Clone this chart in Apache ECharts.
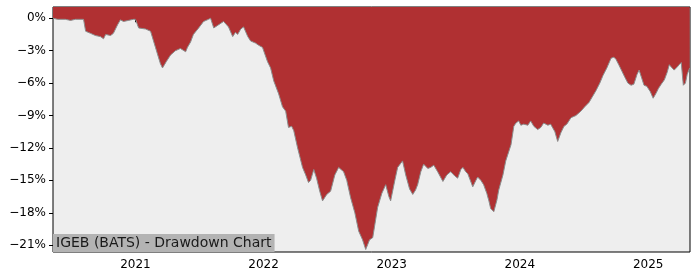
<!DOCTYPE html>
<html>
<head>
<meta charset="utf-8">
<script src="https://cdn.jsdelivr.net/npm/echarts@6.0.0/dist/echarts.min.js"></script>
<style>
  html, body { margin: 0; padding: 0; background: #fff; }
  #chart { width: 700px; height: 280px; }
</style>
</head>
<body>
<div id="chart"></div>
<script>
"use strict";

// Drawdown from running peak, in percent.
const dates = [
  "2020-05-11", "2020-05-24", "2020-06-15", "2020-06-30", "2020-07-14", "2020-08-06",
  "2020-08-12", "2020-08-26", "2020-09-09", "2020-09-23", "2020-10-02", "2020-10-08",
  "2020-10-22", "2020-10-30", "2020-11-11", "2020-11-19", "2020-11-28", "2020-12-12",
  "2020-12-26",
  "2021-01-01", "2021-01-10", "2021-01-30", "2021-02-13", "2021-02-27", "2021-03-13",
  "2021-03-19", "2021-03-30", "2021-04-11", "2021-04-25", "2021-05-09", "2021-05-24",
  "2021-05-29", "2021-06-07", "2021-06-15", "2021-06-30", "2021-07-14", "2021-07-28",
  "2021-08-03", "2021-08-12", "2021-08-26", "2021-09-09", "2021-09-23", "2021-10-05",
  "2021-10-13", "2021-10-19", "2021-10-28", "2021-11-05", "2021-11-17", "2021-11-25",
  "2021-12-09", "2021-12-18", "2021-12-29",
  "2022-01-12", "2022-01-21", "2022-01-30", "2022-02-13", "2022-02-24", "2022-03-05",
  "2022-03-13", "2022-03-22", "2022-03-28", "2022-04-08", "2022-04-22", "2022-05-01",
  "2022-05-09", "2022-05-15", "2022-05-24", "2022-06-01", "2022-06-10", "2022-06-18",
  "2022-06-30", "2022-07-11", "2022-07-23", "2022-08-03", "2022-08-17", "2022-08-26",
  "2022-09-06", "2022-09-18", "2022-09-29", "2022-10-10", "2022-10-19", "2022-10-30",
  "2022-11-08", "2022-11-17", "2022-11-22", "2022-12-04", "2022-12-15", "2022-12-24",
  "2022-12-29",
  "2023-01-10", "2023-01-18", "2023-02-01", "2023-02-10", "2023-02-21", "2023-03-02",
  "2023-03-10", "2023-03-16", "2023-03-25", "2023-04-02", "2023-04-14", "2023-04-22",
  "2023-05-01", "2023-05-12", "2023-05-27", "2023-06-07", "2023-06-18", "2023-06-30",
  "2023-07-08", "2023-07-17", "2023-07-23", "2023-07-31", "2023-08-06", "2023-08-20",
  "2023-08-29", "2023-09-03", "2023-09-12", "2023-09-20", "2023-09-29", "2023-10-05",
  "2023-10-10", "2023-10-19", "2023-10-28", "2023-11-02", "2023-11-14", "2023-11-22",
  "2023-12-01", "2023-12-07", "2023-12-15", "2023-12-21", "2023-12-29",
  "2024-01-04", "2024-01-12", "2024-01-24", "2024-02-01", "2024-02-10", "2024-02-21",
  "2024-03-01", "2024-03-09", "2024-03-21", "2024-03-29", "2024-04-10", "2024-04-18",
  "2024-04-27", "2024-05-06", "2024-05-14", "2024-05-26", "2024-06-09", "2024-06-23",
  "2024-07-04", "2024-07-16", "2024-07-27", "2024-08-05", "2024-08-16", "2024-08-25",
  "2024-09-05", "2024-09-17", "2024-09-25", "2024-10-01", "2024-10-09", "2024-10-15",
  "2024-10-27", "2024-11-04", "2024-11-13", "2024-11-21", "2024-11-30", "2024-12-06",
  "2024-12-14", "2024-12-20", "2024-12-28",
  "2025-01-07", "2025-01-15", "2025-01-24", "2025-01-30", "2025-02-07", "2025-02-16",
  "2025-02-24", "2025-03-02", "2025-03-10", "2025-03-16", "2025-03-25", "2025-03-30",
  "2025-04-05", "2025-04-11", "2025-04-17", "2025-04-22", "2025-04-29"
];

const drawdown = [
  0.0, -0.1, -0.1, -0.2, -0.1, -0.1,
  -1.2, -1.4, -1.6, -1.7, -1.9, -1.5,
  -1.6, -1.4, -0.6, -0.15, -0.3, -0.2,
  -0.1,
  -0.1, -0.9, -1.0, -1.2, -2.7, -4.2,
  -4.6, -4.0, -3.4, -3.0, -2.8, -3.1,
  -2.7, -2.2, -1.5, -0.9, -0.3, -0.1,
  0.0, -0.9, -0.6, -0.3, -0.8, -1.7,
  -1.3, -1.5, -1.0, -0.8, -1.7, -2.1,
  -2.3, -2.5, -2.7,
  -4.0, -4.6, -5.8, -7.0, -8.2, -8.6,
  -10.1, -10.0, -10.4, -12.0, -13.8, -14.5,
  -15.2, -15.0, -14.0, -14.8, -16.0, -16.9,
  -16.3, -16.0, -14.5, -13.8, -14.2, -15.0,
  -16.6, -18.0, -19.7, -20.5, -21.4, -20.5,
  -20.3, -18.5, -17.5, -16.2, -15.4, -16.5,
  -16.9,
  -15.0, -13.8, -13.2, -14.5, -15.8, -16.3,
  -15.9, -15.4, -14.2, -13.5, -13.9, -13.8,
  -13.6, -14.2, -15.1, -14.5, -14.2, -14.6,
  -14.8, -14.0, -13.8, -14.2, -14.4, -15.6,
  -15.0, -14.7, -15.0, -15.4, -16.2, -16.9,
  -17.6, -17.9, -16.8, -15.9, -14.5, -13.2,
  -12.3, -11.7, -10.0, -9.7, -9.5,
  -9.9, -9.8, -9.9, -9.5, -10.0, -10.3,
  -10.1, -9.7, -9.9, -9.8, -10.5, -11.4,
  -10.6, -10.0, -9.8, -9.2, -9.0, -8.6,
  -8.2, -7.8, -7.2, -6.7, -6.0, -5.3,
  -4.6, -3.7, -3.6, -3.8, -4.3, -4.7,
  -5.5, -6.0, -6.2, -6.1, -5.2, -4.8,
  -5.6, -6.2, -6.3,
  -6.8, -7.4, -6.9, -6.5, -6.1, -5.7,
  -5.0, -4.3, -4.6, -4.8, -4.5, -4.3,
  -4.1, -6.2, -6.0, -5.2, -4.6
];

const yearTicks = ["2021-01-01", "2022-01-01", "2023-01-01", "2024-01-01", "2025-01-01"];
const pctTicks = [0, -3, -6, -9, -12, -15, -18, -21];
const titleText = "IGEB (BATS) - Drawdown Chart";

const FONT = "DejaVu Sans";
const ts = (s) => Date.parse(s + "T00:00:00Z");

const chart = echarts.init(document.getElementById("chart"), null, { renderer: "canvas" });

chart.setOption({
  animation: false,
  backgroundColor: "#ffffff",
  textStyle: { fontFamily: FONT },
  title: {
    text: titleText,
    left: 53,
    bottom: 28,
    padding: [2, 3, 2, 3],
    backgroundColor: "#b3b3b3",
    textStyle: { fontFamily: FONT, fontSize: 14, fontWeight: "normal", color: "#1a1a1a" },
  },
  grid: {
    left: 53, right: 10, top: 7, bottom: 28,
    show: true, backgroundColor: "#eeeeee",
    borderColor: "#000", borderWidth: 1,
    containLabel: false,
  },
  xAxis: {
    type: "value",
    min: ts("2020-05-11"),
    max: ts("2025-04-30"),
    axisLine: { show: false },
    splitLine: { show: false },
    axisTick: {
      show: true, length: 4, inside: false,
      lineStyle: { color: "#000" },
      customValues: yearTicks.map(ts),
    },
    axisLabel: {
      color: "#000", fontSize: 12, fontFamily: FONT, margin: 7,
      customValues: yearTicks.map(ts),
      formatter: (v) => String(new Date(v).getUTCFullYear()),
    },
  },
  yAxis: {
    type: "value",
    min: -21.63,
    max: 1.04,
    axisLine: { show: false },
    splitLine: { show: false },
    axisTick: {
      show: true, length: 4,
      lineStyle: { color: "#000" },
      customValues: pctTicks,
    },
    axisLabel: {
      color: "#000", fontSize: 12, fontFamily: FONT, margin: 7,
      customValues: pctTicks,
      formatter: (v) => (v < 0 ? "\u2212" + Math.abs(v) : String(v)) + "%",
    },
  },
  series: [{
    type: "line",
    data: dates.map((d, i) => [ts(d), drawdown[i]]),
    showSymbol: false,
    symbol: "none",
    lineStyle: { color: "#8c8c8c", width: 1 },
    areaStyle: { origin: "end", color: "#b03032", opacity: 1 },
    z: 1,
  }],
});
</script>
</body>
</html>
